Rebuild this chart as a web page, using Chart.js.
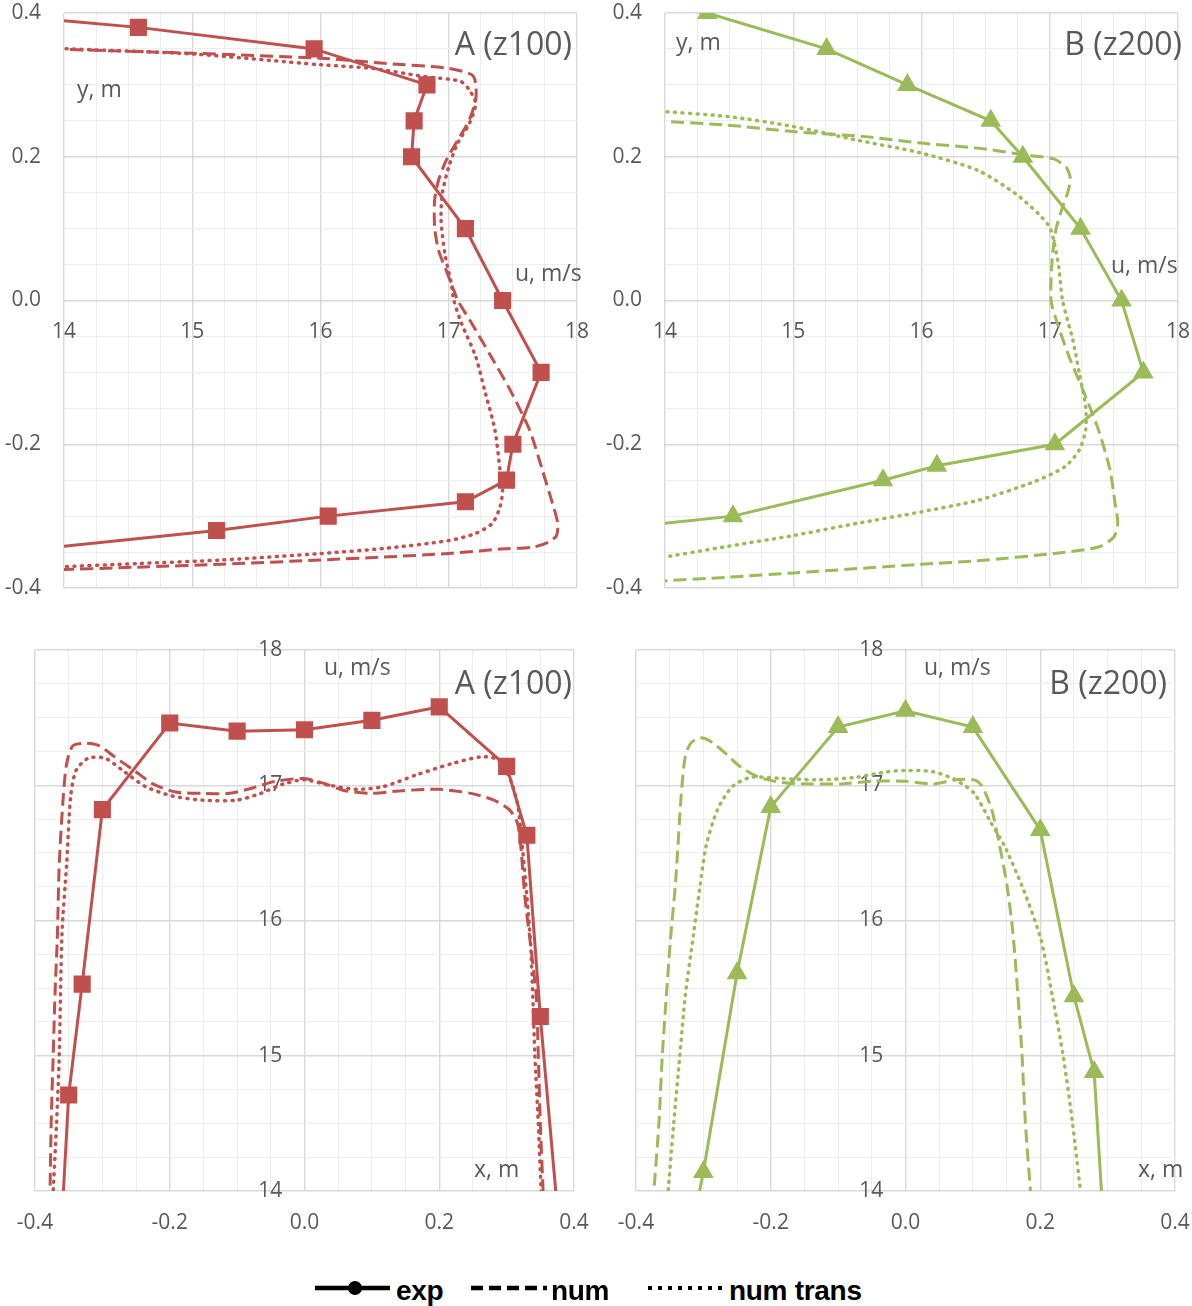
<!DOCTYPE html>
<html>
<head>
<meta charset="utf-8">
<script src="https://cdn.jsdelivr.net/npm/chart.js@4.4.1/dist/chart.umd.min.js"></script>
<style>
  body { margin: 0; background: #fff; }
  #page { position: relative; width: 1192px; height: 1306px; overflow: hidden; font-family: "Open Sans", sans-serif; }
  .panel { position: absolute; }
  .note { position: absolute; color: #595959; font-size: 23px; line-height: 1; white-space: nowrap; transform: translateY(-50%); }
  .title { font-size: 32px; }
  .leg { position: absolute; top: 1280px; }
  .legtxt { position: absolute; top: 1277px; font: bold 28px/1 "Liberation Sans", Arial, sans-serif; color: #000; letter-spacing: -0.3px; white-space: nowrap; }
</style>
</head>
<body>
<div id="page">
  <canvas class="panel" id="topA" width="617" height="655" style="left:0;top:-27px"></canvas>
  <canvas class="panel" id="topB" width="618" height="655" style="left:600px;top:-27px"></canvas>
  <canvas class="panel" id="botA" width="619" height="611" style="left:-5px;top:630px"></canvas>
  <canvas class="panel" id="botB" width="619" height="611" style="left:596px;top:630px"></canvas>

  <div class="note title" style="right:620px;top:43px">A (z100)</div>
  <div class="note" style="left:77px;top:88px">y, m</div>
  <div class="note" style="left:515px;top:272px">u, m/s</div>

  <div class="note title" style="right:10px;top:43px">B (z200)</div>
  <div class="note" style="left:676px;top:41px">y, m</div>
  <div class="note" style="left:1111px;top:264px">u, m/s</div>

  <div class="note" style="left:324px;top:666px">u, m/s</div>
  <div class="note title" style="right:620px;top:682px">A (z100)</div>
  <div class="note" style="left:474px;top:1168px">x, m</div>

  <div class="note" style="left:924px;top:666px">u, m/s</div>
  <div class="note title" style="right:25px;top:682px">B (z200)</div>
  <div class="note" style="left:1138px;top:1168px">x, m</div>

  <svg class="leg" style="left:315px" width="75" height="16"><line x1="0" y1="8" x2="75" y2="8" stroke="#000" stroke-width="4.5"/><circle cx="40" cy="8" r="7" fill="#000"/></svg>
  <span class="legtxt" style="left:396px">exp</span>
  <svg class="leg" style="left:471px" width="76" height="16"><line x1="0" y1="8" x2="76" y2="8" stroke="#000" stroke-width="4.5" stroke-dasharray="12 6"/></svg>
  <span class="legtxt" style="left:551px">num</span>
  <svg class="leg" style="left:648px" width="78" height="16"><line x1="0" y1="8" x2="78" y2="8" stroke="#000" stroke-width="4" stroke-dasharray="4 6"/></svg>
  <span class="legtxt" style="left:729px">num trans</span>
</div>

<script>
// ---- data: A = z100 (red, squares), B = z200 (green, triangles) ----
// top charts: [u (m/s), y (m)]
const A_Y_EXP = [[13.3,0.40],[14.58,0.38],[15.95,0.35],[16.83,0.30],[16.73,0.25],[16.71,0.20],[17.13,0.10],[17.42,0.0],[17.72,-0.10],[17.50,-0.20],[17.45,-0.25],[17.13,-0.28],[16.06,-0.30],[15.19,-0.32],[13.55,-0.35]];
const A_Y_NUM = [[13.9,0.350],[15.0,0.344],[16.0,0.337],[16.5,0.330],[17.0,0.323],[17.18,0.314],[17.21,0.302],[17.21,0.279],[17.16,0.251],[17.07,0.223],[16.98,0.195],[16.92,0.167],[16.89,0.140],[16.89,0.102],[16.92,0.070],[16.98,0.042],[17.04,0.014],[17.07,0.0],[17.18,-0.032],[17.33,-0.078],[17.48,-0.125],[17.63,-0.180],[17.73,-0.236],[17.81,-0.283],[17.85,-0.310],[17.84,-0.327],[17.78,-0.336],[17.66,-0.343],[17.39,-0.346],[17.0,-0.352],[16.49,-0.357],[16.0,-0.361],[15.23,-0.367],[14.57,-0.371],[13.9,-0.375]];
const A_Y_TRANS = [[13.9,0.351],[15.0,0.343],[16.0,0.328],[16.4,0.323],[16.79,0.312],[17.09,0.305],[17.16,0.293],[17.21,0.274],[17.16,0.246],[17.07,0.219],[17.0,0.186],[16.95,0.149],[16.94,0.112],[16.97,0.065],[17.02,0.023],[17.04,0.0],[17.10,-0.032],[17.21,-0.078],[17.28,-0.125],[17.36,-0.180],[17.40,-0.236],[17.42,-0.264],[17.40,-0.287],[17.34,-0.310],[17.21,-0.324],[17.0,-0.334],[16.49,-0.345],[16.0,-0.352],[15.23,-0.361],[14.57,-0.366],[13.9,-0.371]];

const B_Y_EXP = [[13.5,0.42],[14.33,0.40],[15.26,0.35],[15.89,0.30],[16.54,0.25],[16.79,0.20],[17.24,0.10],[17.56,0.0],[17.73,-0.10],[17.04,-0.20],[16.12,-0.23],[15.70,-0.25],[14.53,-0.30],[13.45,-0.32]];
const B_Y_NUM = [[13.9,0.250],[14.49,0.244],[15.0,0.235],[15.56,0.228],[16.0,0.219],[16.44,0.212],[16.79,0.203],[17.03,0.197],[17.13,0.185],[17.16,0.170],[17.14,0.150],[17.10,0.130],[17.05,0.100],[17.02,0.060],[17.01,0.0],[17.06,-0.032],[17.15,-0.078],[17.26,-0.125],[17.38,-0.180],[17.47,-0.236],[17.51,-0.283],[17.53,-0.310],[17.50,-0.329],[17.38,-0.343],[17.03,-0.352],[16.44,-0.362],[16.0,-0.367],[15.0,-0.379],[14.49,-0.385],[13.9,-0.391]];
const B_Y_TRANS = [[13.9,0.264],[14.49,0.256],[15.0,0.242],[15.5,0.223],[16.0,0.205],[16.44,0.181],[16.73,0.149],[16.91,0.121],[17.0,0.102],[17.03,0.084],[17.07,0.047],[17.10,0.0],[17.18,-0.055],[17.23,-0.101],[17.28,-0.148],[17.28,-0.180],[17.23,-0.208],[17.12,-0.231],[16.88,-0.252],[16.44,-0.278],[16.0,-0.294],[15.5,-0.310],[15.0,-0.327],[14.49,-0.342],[13.9,-0.360]];

// bottom charts: [x (m), u (m/s)]
const A_X_EXP = [[-0.36,13.8],[-0.35,14.71],[-0.33,15.53],[-0.30,16.82],[-0.20,17.46],[-0.10,17.40],[0.0,17.41],[0.10,17.48],[0.20,17.58],[0.30,17.14],[0.33,16.63],[0.35,15.29],[0.38,13.6]];
const A_X_NUM = [[-0.378,13.9],[-0.376,14.5],[-0.373,15.0],[-0.370,15.5],[-0.367,15.85],[-0.364,16.42],[-0.358,16.92],[-0.353,17.16],[-0.344,17.29],[-0.324,17.31],[-0.304,17.29],[-0.282,17.21],[-0.253,17.11],[-0.225,17.01],[-0.191,16.95],[-0.151,16.94],[-0.111,16.94],[-0.077,16.98],[-0.043,17.03],[0.0,17.05],[0.031,17.01],[0.060,16.96],[0.100,16.94],[0.145,16.96],[0.200,16.97],[0.247,16.94],[0.281,16.89],[0.304,16.82],[0.316,16.72],[0.321,16.55],[0.327,16.18],[0.336,15.80],[0.344,15.44],[0.347,15.0],[0.350,14.5],[0.355,13.9]];
const A_X_TRANS = [[-0.374,13.9],[-0.368,14.5],[-0.364,15.0],[-0.360,15.9],[-0.353,16.42],[-0.347,16.92],[-0.339,17.11],[-0.321,17.20],[-0.296,17.20],[-0.270,17.11],[-0.236,16.99],[-0.196,16.92],[-0.151,16.89],[-0.100,16.89],[-0.065,16.94],[-0.031,17.01],[0.0,17.04],[0.037,17.0],[0.077,16.97],[0.117,16.99],[0.168,17.08],[0.219,17.16],[0.262,17.21],[0.287,17.19],[0.304,17.06],[0.316,16.87],[0.321,16.67],[0.330,16.18],[0.336,15.80],[0.342,15.0],[0.347,14.5],[0.352,13.9]];

const B_X_EXP = [[-0.32,13.65],[-0.30,14.14],[-0.25,15.61],[-0.20,16.84],[-0.10,17.43],[0.0,17.55],[0.10,17.43],[0.20,16.67],[0.25,15.44],[0.28,14.88],[0.30,13.25]];
const B_X_NUM = [[-0.375,13.9],[-0.366,14.5],[-0.361,15.0],[-0.355,15.44],[-0.349,15.85],[-0.341,16.30],[-0.333,16.92],[-0.327,17.21],[-0.319,17.31],[-0.305,17.35],[-0.291,17.33],[-0.268,17.24],[-0.246,17.14],[-0.218,17.06],[-0.184,17.02],[-0.139,17.01],[-0.094,17.01],[-0.049,17.03],[0.0,17.03],[0.041,17.01],[0.074,17.04],[0.102,17.04],[0.114,16.99],[0.128,16.82],[0.139,16.57],[0.150,16.28],[0.159,15.93],[0.167,15.44],[0.173,15.0],[0.178,14.5],[0.187,13.9]];
const B_X_TRANS = [[-0.354,13.9],[-0.344,14.5],[-0.335,15.0],[-0.327,15.44],[-0.316,15.85],[-0.307,16.18],[-0.296,16.55],[-0.279,16.82],[-0.257,16.99],[-0.229,17.06],[-0.184,17.05],[-0.128,17.04],[-0.072,17.06],[-0.027,17.10],[0.0,17.11],[0.041,17.10],[0.074,17.04],[0.102,16.94],[0.125,16.74],[0.147,16.55],[0.175,16.23],[0.201,15.86],[0.218,15.44],[0.234,15.0],[0.248,14.5],[0.262,13.9]];

const RED = '#C0504D';
const GREEN = '#9BBB59';
const MAJOR = '#D9D9D9';
const MINOR = '#EDEDED';
const TEXT = '#595959';

function isMajor(v, step) {
  const r = v / step;
  return Math.abs(r - Math.round(r)) < 1e-6;
}

// linear axis with minor gridlines, labels only on majors
function axis(min, max, minor, major, digits, pad, extra) {
  return Object.assign({
    type: 'linear',
    min: min,
    max: max,
    border: { display: false },
    grid: {
      drawTicks: false,
      color: c => isMajor(c.tick.value, major) ? MAJOR : MINOR,
      lineWidth: c => isMajor(c.tick.value, major) ? 1.4 : 1
    },
    ticks: {
      stepSize: minor,
      autoSkip: false,
      maxRotation: 0,
      padding: pad,
      color: TEXT,
      font: { family: 'Open Sans', size: 21 },
      callback: v => isMajor(v, major) ? Number(v).toFixed(digits) : ''
    }
  }, extra);
}

function series(label, pts, color, kind, marker) {
  const ds = {
    label: label,
    data: pts.map(p => ({ x: p[0], y: p[1] })),
    showLine: true,
    borderColor: color,
    backgroundColor: color,
    borderWidth: 3,
    pointRadius: 0,
    pointHoverRadius: 0,
    tension: 0.25
  };
  if (kind === 'exp') {
    ds.tension = 0;
    ds.pointStyle = marker;
    ds.pointRadius = marker === 'rect' ? 10 : 9;
  } else if (kind === 'num') {
    ds.borderDash = [13, 6];
  } else {
    ds.borderWidth = 3.5;
    ds.borderDash = [1, 6.5];
    ds.borderCapStyle = 'round';
  }
  return ds;
}

function makeChart(id, datasets, pad, scales) {
  return new Chart(document.getElementById(id), {
    type: 'scatter',
    data: { datasets: datasets },
    options: {
      responsive: false,
      animation: false,
      devicePixelRatio: 1,
      events: [],
      layout: { padding: pad, autoPadding: false },
      plugins: { legend: { display: false }, tooltip: { enabled: false } },
      scales: scales
    }
  });
}

// top: velocity profiles along y
makeChart('topA', [
  series('exp', A_Y_EXP, RED, 'exp', 'rect'),
  series('num', A_Y_NUM, RED, 'num'),
  series('num trans', A_Y_TRANS, RED, 'trans')
], { left: 0, top: 40, right: 40, bottom: 40 }, {
  x: axis(14, 18, 0.25, 1, 0, 19, { position: { y: 0 } }),
  y: axis(-0.4, 0.4, 0.05, 0.2, 1, 23, { position: 'left', afterFit: s => { s.width = 64; } })
});

makeChart('topB', [
  series('exp', B_Y_EXP, GREEN, 'exp', 'triangle'),
  series('num', B_Y_NUM, GREEN, 'num'),
  series('num trans', B_Y_TRANS, GREEN, 'trans')
], { left: 0, top: 40, right: 40, bottom: 40 }, {
  x: axis(14, 18, 0.25, 1, 0, 19, { position: { y: 0 } }),
  y: axis(-0.4, 0.4, 0.05, 0.2, 1, 23, { position: 'left', afterFit: s => { s.width = 65; } })
});

// bottom: velocity profiles along x
makeChart('botA', [
  series('exp', A_X_EXP, RED, 'exp', 'rect'),
  series('num', A_X_NUM, RED, 'num'),
  series('num trans', A_X_TRANS, RED, 'trans')
], { left: 40, top: 20, right: 40, bottom: 0 }, {
  x: axis(-0.4, 0.4, 0.05, 0.2, 1, 19, { position: 'bottom', afterFit: s => { s.height = 50; } }),
  y: axis(14, 18, 0.25, 1, 0, 0, { position: { x: -0.033 } })
});

makeChart('botB', [
  series('exp', B_X_EXP, GREEN, 'exp', 'triangle'),
  series('num', B_X_NUM, GREEN, 'num'),
  series('num trans', B_X_TRANS, GREEN, 'trans')
], { left: 40, top: 20, right: 40, bottom: 0 }, {
  x: axis(-0.4, 0.4, 0.05, 0.2, 1, 19, { position: 'bottom', afterFit: s => { s.height = 50; } }),
  y: axis(14, 18, 0.25, 1, 0, 0, { position: { x: -0.033 } })
});
</script>
</body>
</html>
